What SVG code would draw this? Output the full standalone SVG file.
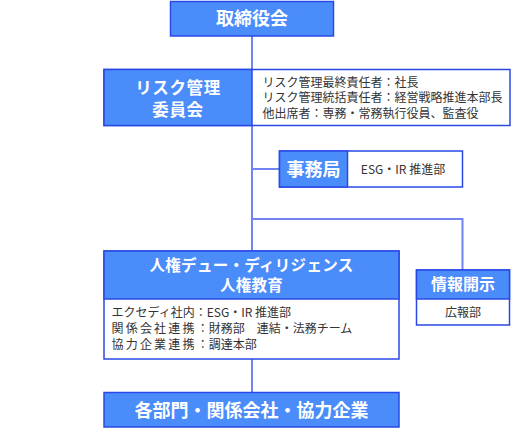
<svg xmlns="http://www.w3.org/2000/svg" width="517" height="429" viewBox="0 0 517 429">
<style>
.box{fill:#4b8cfb;stroke:#2a48e6;stroke-width:1.5}
.wbox{fill:#ffffff;stroke:#2a48e6;stroke-width:1.5}
.wt{fill:#ffffff;font-family:"Noto Sans CJK JP","Noto Sans",sans-serif;font-weight:bold;text-anchor:middle}
.dt{fill:#333333;font-family:"Noto Sans CJK JP","Noto Sans",sans-serif;font-size:12px}
.conn{fill:none;stroke:#7284f2;stroke-width:2}
</style>
<rect width="517" height="429" fill="#ffffff"/>
<g id="connectors">
<path class="conn" d="M252 36V392"/>
<path class="conn" d="M252 169H279"/>
<path class="conn" d="M252 219H462.5V270"/>
</g>
<g id="board">
<rect class="box" x="170.5" y="1.5" width="163" height="34.5"/>
<text class="wt" x="252" y="25" font-size="18">取締役会</text>
</g>
<g id="risk-committee">
<rect class="wbox" x="104" y="69.5" width="406" height="56"/>
<rect class="box" x="104" y="69.5" width="148" height="56"/>
<text class="wt" font-size="16.5" letter-spacing="0.6"><tspan x="178" y="93.5">リスク管理</tspan><tspan x="178" y="115.5">委員会</tspan></text>
<text class="dt" x="262.5" y="86.5">リスク管理最終責任者：社長</text>
<text class="dt" x="262.5" y="102">リスク管理統括責任者：経営戦略推進本部長</text>
<text class="dt" x="262.5" y="117.5">他出席者：専務・常務執行役員、監査役</text>
</g>
<g id="secretariat">
<rect class="wbox" x="279.5" y="151" width="183" height="36"/>
<rect class="box" x="279.5" y="151" width="68" height="36"/>
<text class="wt" x="313.5" y="175.5" font-size="18">事務局</text>
<text class="dt" x="403" y="174" text-anchor="middle">ESG・IR 推進部</text>
</g>
<g id="human-rights">
<rect class="wbox" x="104" y="251" width="295" height="108"/>
<rect class="box" x="104" y="251" width="295" height="48"/>
<text class="wt" font-size="15.5" letter-spacing="0.3"><tspan x="251.5" y="270.5">人権デュー・ディリジェンス</tspan><tspan x="251.5" y="290.5">人権教育</tspan></text>
<text class="dt" x="111.5" y="317">エクセディ社内：ESG・IR 推進部</text>
<text class="dt" x="111.5" y="332.5"><tspan letter-spacing="2.2">関係会社連携</tspan>：財務部　連結・法務チーム</text>
<text class="dt" x="111.5" y="348.5"><tspan letter-spacing="2.2">協力企業連携</tspan>：調達本部</text>
</g>
<g id="disclosure">
<rect class="wbox" x="416.5" y="270" width="93" height="55"/>
<rect class="box" x="416.5" y="270" width="93" height="29"/>
<text class="wt" x="463" y="290" font-size="16">情報開示</text>
<text class="dt" x="463" y="317" text-anchor="middle">広報部</text>
</g>
<g id="all-units">
<rect class="box" x="104" y="392.5" width="295" height="34.5"/>
<text class="wt" x="251.5" y="417" font-size="18">各部門・関係会社・協力企業</text>
</g>
</svg>
